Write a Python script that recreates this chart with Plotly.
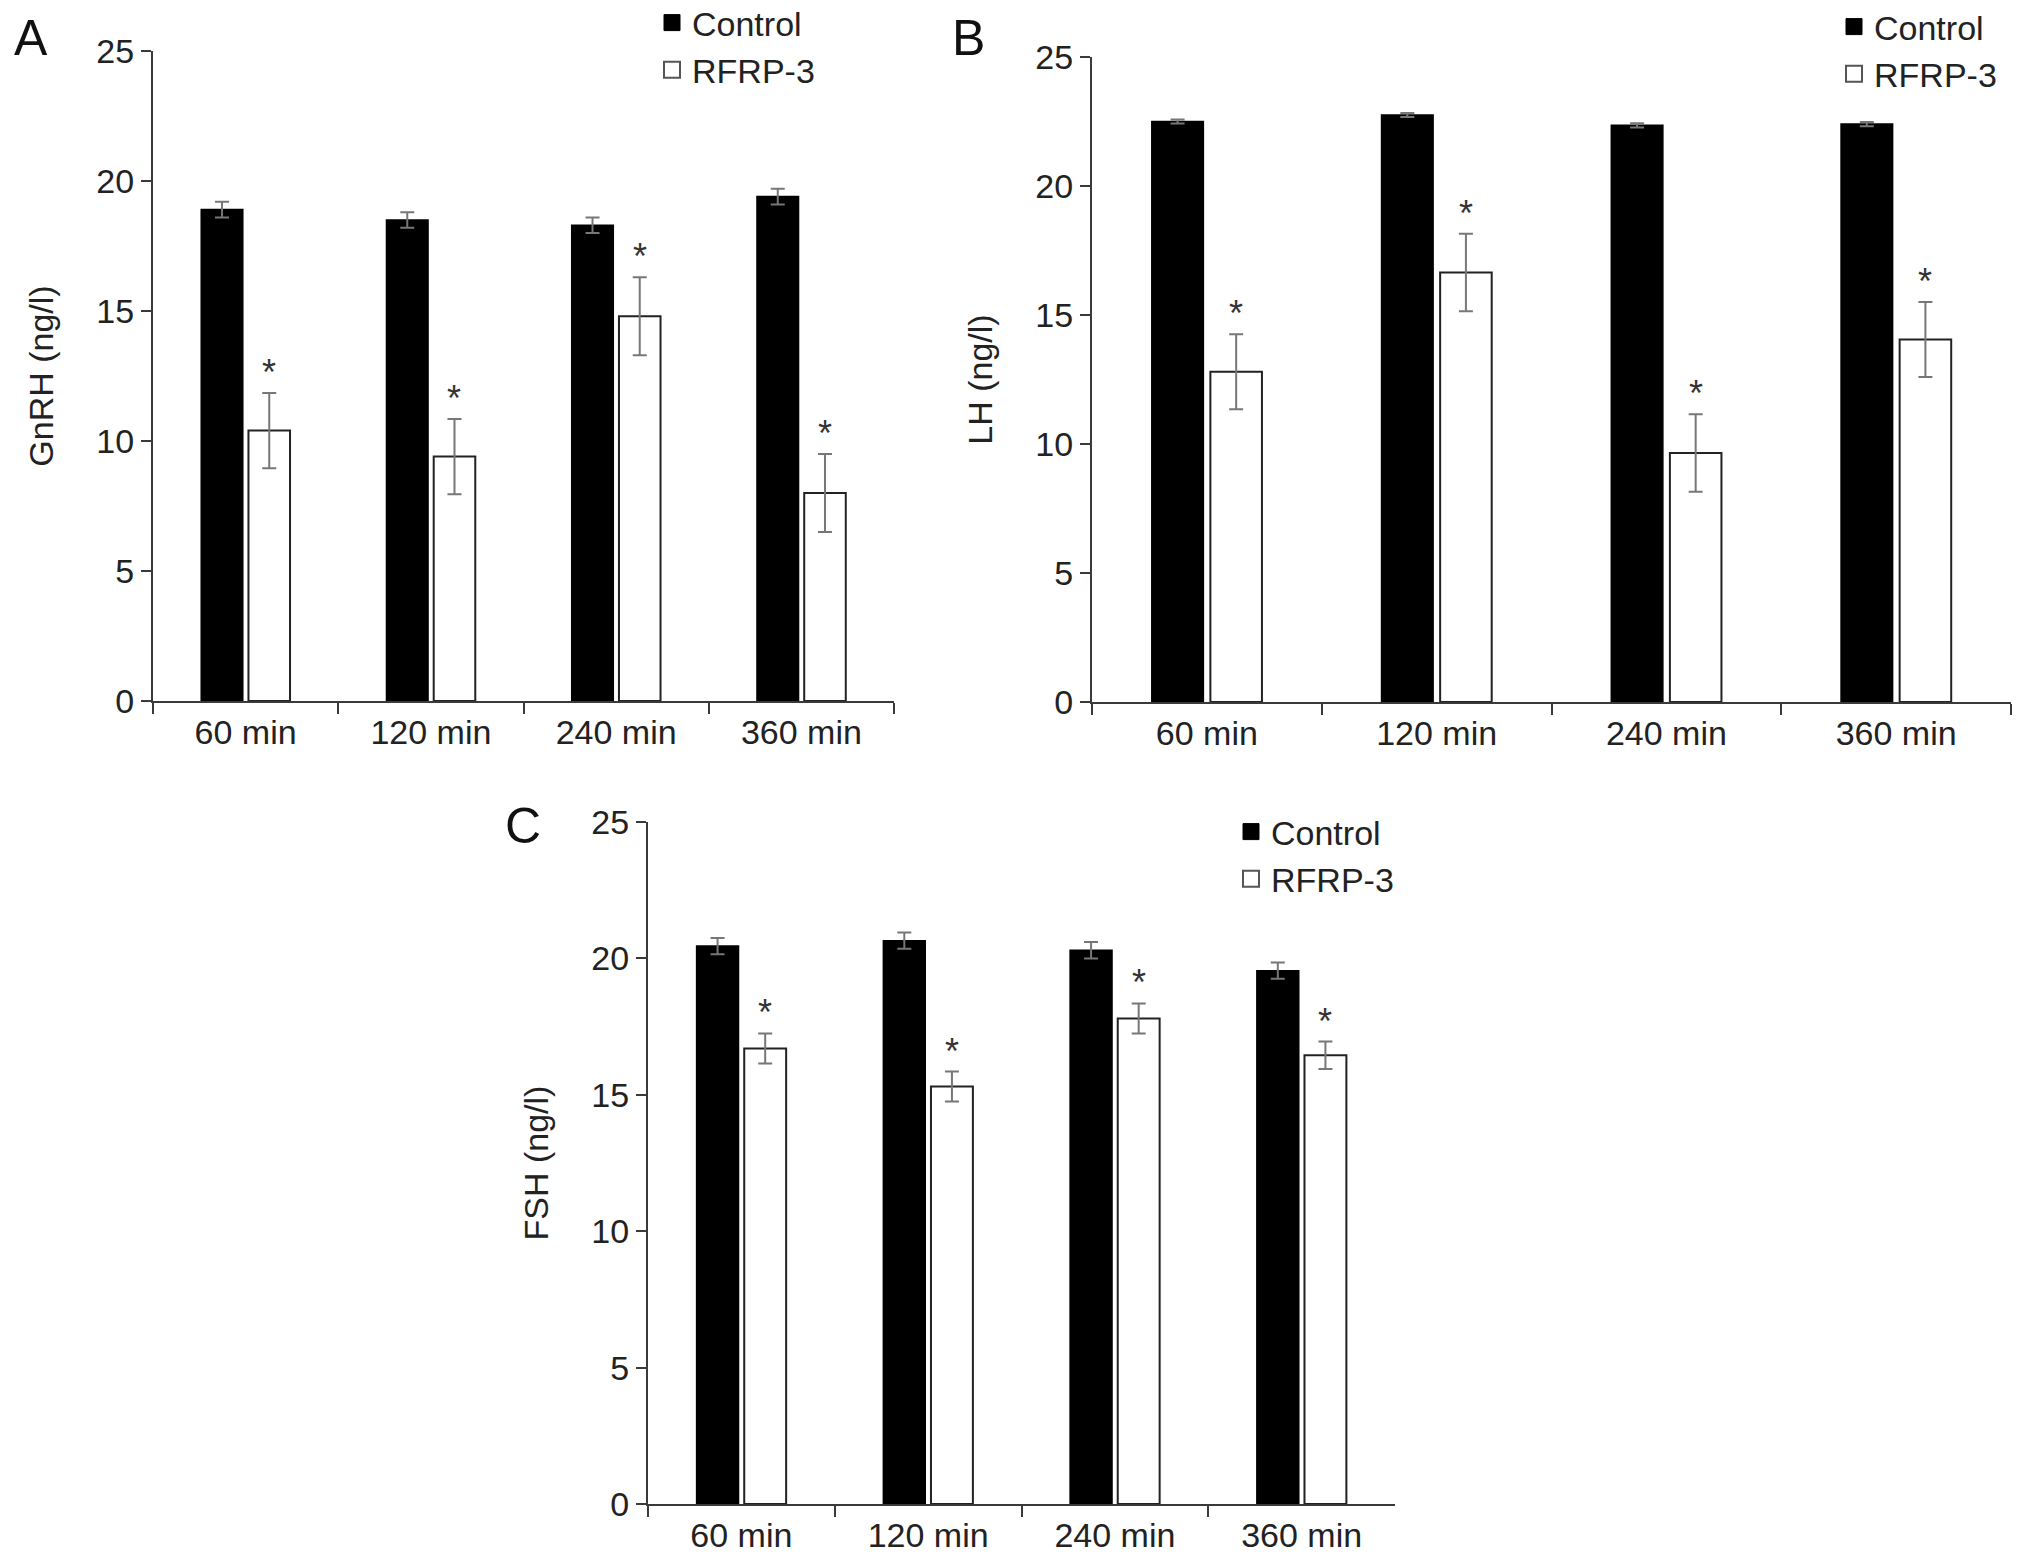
import plotly.graph_objects as go

W, H = 2031, 1561

times = ["60 min", "120 min", "240 min", "360 min"]

# panel A - GnRH
gnrh_control = [18.9, 18.5, 18.3, 19.4]
gnrh_control_err = [0.3, 0.3, 0.3, 0.3]
gnrh_rfrp = [10.4, 9.4, 14.8, 8.0]
gnrh_rfrp_err = [1.45, 1.45, 1.5, 1.5]

# panel B - LH
lh_control = [22.5, 22.75, 22.35, 22.4]
lh_control_err = [0.08, 0.08, 0.08, 0.08]
lh_rfrp = [12.8, 16.65, 9.65, 14.05]
lh_rfrp_err = [1.45, 1.5, 1.5, 1.45]

# panel C - FSH
fsh_control = [20.45, 20.65, 20.3, 19.55]
fsh_control_err = [0.3, 0.3, 0.3, 0.3]
fsh_rfrp = [16.7, 15.3, 17.8, 16.45]
fsh_rfrp_err = [0.55, 0.55, 0.55, 0.5]

panels = [
    ("A", "GnRH (ng/l)", gnrh_control, gnrh_control_err, gnrh_rfrp, gnrh_rfrp_err),
    ("B", "LH (ng/l)", lh_control, lh_control_err, lh_rfrp, lh_rfrp_err),
    ("C", "FSH (ng/l)", fsh_control, fsh_control_err, fsh_rfrp, fsh_rfrp_err),
]

# plot boxes in pixels: (left, right, y of 0, y of 25)
boxes = [(153, 894, 701, 51), (1092, 2011, 702, 57), (648, 1395, 1504, 822)]
legend_pos = [(652, -6), (1834, -2), (1231, 803)]
letter_pos = [(12, 8), (950, 8), (503, 796)]

FONT = "Liberation Sans, Arial, sans-serif"
AX = "#3a3a3a"
BARGAP = 0.49
BARGROUPGAP = 0.12

fig = go.Figure()
annotations = []
layout = {}

for i, (letter, ytitle, ctrl, ctrl_err, rfrp, rfrp_err) in enumerate(panels):
    n = "" if i == 0 else str(i + 1)
    xa, ya = "x" + n, "y" + n
    leg = "legend" + n
    left, right, y0, y25 = boxes[i]

    fig.add_trace(go.Bar(
        x=times, y=ctrl, name="Control", xaxis=xa, yaxis=ya, showlegend=False,
        marker=dict(color="black", line=dict(color="black", width=1.5)),
        error_y=dict(type="data", array=ctrl_err, color="#777777", thickness=2, width=7),
    ))
    fig.add_trace(go.Bar(
        x=times, y=rfrp, name="RFRP-3", xaxis=xa, yaxis=ya, showlegend=False,
        marker=dict(color="white", line=dict(color="#222222", width=2)),
        error_y=dict(type="data", array=rfrp_err, color="#777777", thickness=2, width=7),
    ))
    # legend keys drawn as larger squares
    fig.add_trace(go.Scatter(
        x=[None], y=[None], mode="markers", name="Control", xaxis=xa, yaxis=ya,
        legend=leg, marker=dict(symbol="square", size=16, color="black",
                                line=dict(color="black", width=1)),
    ))
    fig.add_trace(go.Scatter(
        x=[None], y=[None], mode="markers", name="RFRP-3", xaxis=xa, yaxis=ya,
        legend=leg, marker=dict(symbol="square", size=16, color="white",
                                line=dict(color="#555555", width=2)),
    ))

    layout["xaxis" + n] = dict(
        domain=[left / W, right / W], anchor=ya, type="category",
        tickson="boundaries", ticks="outside", ticklen=11, tickwidth=2, tickcolor=AX,
        showline=True, linecolor=AX, linewidth=2, showgrid=False, zeroline=False,
        tickfont=dict(size=34, color="#222222"),
    )
    layout["yaxis" + n] = dict(
        domain=[1 - y0 / H, 1 - y25 / H], anchor=xa, range=[0, 25], dtick=5,
        ticks="outside", ticklen=10, tickwidth=2, tickcolor=AX,
        showline=True, linecolor=AX, linewidth=2, showgrid=False, zeroline=False,
        tickfont=dict(size=34, color="#222222"),
        title=dict(text=ytitle, font=dict(size=34, color="#222222"), standoff=32),
    )
    lx, ly = legend_pos[i]
    layout[leg] = dict(
        x=lx / W, y=1 - ly / H, xanchor="left", yanchor="top",
        font=dict(size=34, color="#222222"), bgcolor="rgba(0,0,0,0)",
        tracegroupgap=0, itemwidth=30, itemsizing="trace", traceorder="normal",
    )

    # asterisks above the RFRP-3 bars
    cat_px = (right - left) / len(times)
    shift = (1 - BARGAP) * cat_px / 4
    for t, v, e in zip(times, rfrp, rfrp_err):
        annotations.append(dict(
            x=t, y=v + e, xref=xa, yref=ya, text="*", showarrow=False,
            xshift=shift, yanchor="bottom", yshift=-2,
            font=dict(size=36, color="#333333"),
        ))

    px, py = letter_pos[i]
    annotations.append(dict(
        x=px / W, y=1 - py / H, xref="paper", yref="paper", text=letter,
        showarrow=False, xanchor="left", yanchor="top",
        font=dict(size=50, color="#111111"),
    ))

fig.update_layout(
    width=W, height=H,
    margin=dict(l=0, r=0, t=0, b=0, autoexpand=False),
    paper_bgcolor="white", plot_bgcolor="white",
    font=dict(family=FONT, color="#222222"),
    barmode="group", bargap=BARGAP, bargroupgap=BARGROUPGAP,
    annotations=annotations,
    **layout,
)

fig.write_html("out.html", config={"displayModeBar": False},
               post_script="document.body.style.margin='0';")
